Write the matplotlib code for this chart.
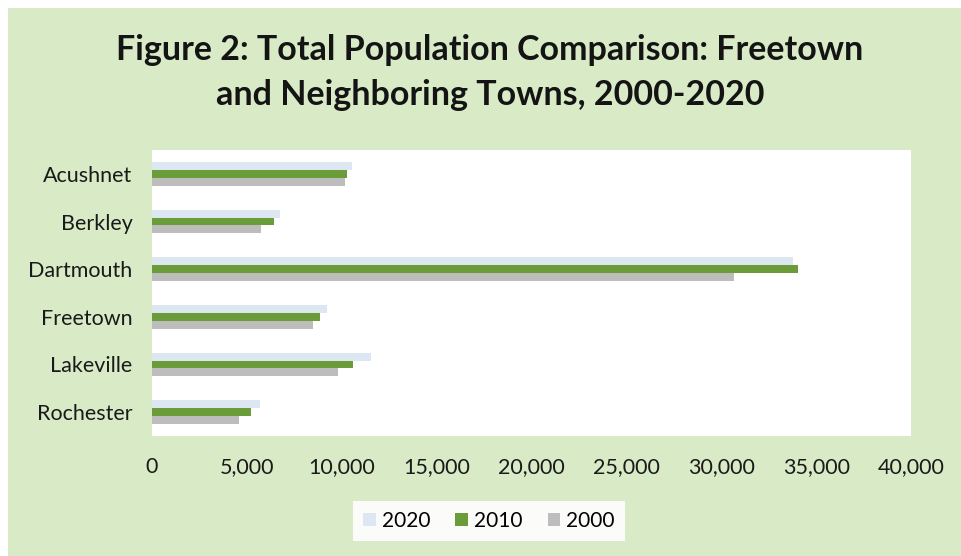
import numpy as np
import matplotlib.pyplot as plt
from matplotlib.patches import Rectangle

towns = ['Acushnet', 'Berkley', 'Dartmouth', 'Freetown', 'Lakeville', 'Rochester']
pop_2020 = [10559, 6764, 33783, 9206, 11523, 5717]
pop_2010 = [10303, 6411, 34032, 8870, 10602, 5232]
pop_2000 = [10161, 5749, 30666, 8472, 9821, 4581]
xticks = [0, 5000, 10000, 15000, 20000, 25000, 30000, 35000, 40000]

plt.rcParams['font.family'] = ['Lato', 'DejaVu Sans']

W, H = 962, 556
fig = plt.figure(figsize=(W / 100, H / 100), dpi=100)
fig.patch.set_facecolor('white')

# green panel behind everything
fig.patches.append(Rectangle((8 / W, 0), 1, 1 - 8 / H, transform=fig.transFigure,
                             facecolor='#d9ebc6', edgecolor='none', zorder=-10))

ax = fig.add_axes([152 / W, 1 - 436 / H, (911 - 152) / W, (436 - 150) / H])
ax.set_facecolor('white')

y = np.arange(len(towns))
h = 0.165
ax.barh(y - h, pop_2020, height=h, color='#dde7f1', label='2020')
ax.barh(y, pop_2010, height=h, color='#6a9d3a', label='2010')
ax.barh(y + h, pop_2000, height=h, color='#bdbdbd', label='2000')

ax.set_ylim(len(towns) - 0.5, -0.5)
ax.set_xlim(0, 40000)
ax.set_yticks(y)
ax.set_yticklabels(towns, fontsize=15.5, color='#1a1a1a')
ax.set_xticks(xticks)
ax.set_xticklabels([f'{v:,}' for v in xticks], fontsize=15.5, color='#1a1a1a')
ax.tick_params(axis='both', length=0)
ax.tick_params(axis='y', pad=14)
ax.tick_params(axis='x', pad=15)
for s in ax.spines.values():
    s.set_visible(False)

fig.text(490 / W, 1 - 50 / H, 'Figure 2: Total Population Comparison: Freetown',
         ha='center', va='center', fontsize=24.5, fontweight='bold', color='#141414')
fig.text(490 / W, 1 - 95 / H, 'and Neighboring Towns, 2000-2020',
         ha='center', va='center', fontsize=24.5, fontweight='bold', color='#141414')

leg = fig.legend(loc='center', bbox_to_anchor=(489 / W, 1 - 521 / H), ncol=3,
                 fontsize=15, frameon=True, fancybox=False, handlelength=0.6,
                 handleheight=0.6, handletextpad=0.3, columnspacing=1.2,
                 borderpad=0.5)
leg.get_frame().set_facecolor('white')
leg.get_frame().set_edgecolor('none')
leg.get_frame().set_alpha(0.9)

fig.savefig('out.png', dpi=100, facecolor=fig.get_facecolor())
